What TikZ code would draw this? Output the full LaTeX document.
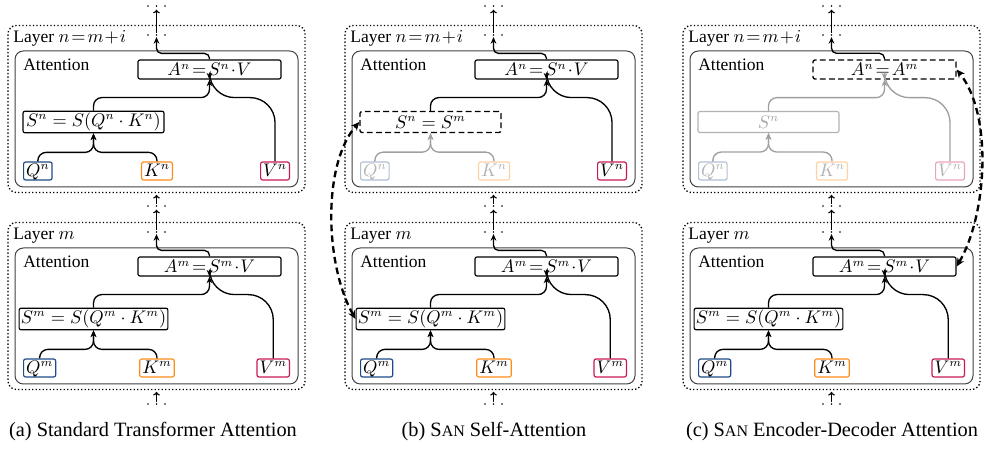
\documentclass[tikz,border=0pt]{standalone}
\usepackage[no-math]{fontspec}
\setmainfont{Liberation Serif}
\usetikzlibrary{arrows.meta,calc}
\definecolor{qcol}{RGB}{31,73,135}
\definecolor{kcol}{RGB}{255,140,26}
\definecolor{vcol}{RGB}{200,25,85}
\tikzset{
  layerbox/.style={draw, line width=0.8pt, dash pattern=on 0.8pt off 1.3pt, rounded corners=5pt,
    minimum width=297*0.6pt, minimum height=167*0.6pt, inner sep=0},
  attnbox/.style={draw=black!75, line width=0.6pt, rounded corners=5pt,
    minimum width=283*0.6pt, minimum height=136*0.6pt, inner sep=0},
  lbl/.style={inner sep=0, font=\fontsize{10.5}{12}\selectfont},
  formbox/.style={rounded corners=1.2pt, line width=0.7pt, inner sep=1pt, font=\fontsize{10.5}{12}\selectfont},
  Asz/.style={formbox, minimum width=143*0.6pt, minimum height=19*0.6pt},
  Ssz/.style={formbox, minimum width=141*0.6pt, minimum height=21*0.6pt},
  insz/.style={formbox, inner xsep=1.5pt, inner ysep=1.3pt, text height=7.2pt, text depth=1pt},
  dashbox/.style={draw=black, line width=0.8pt, dash pattern=on 3.5pt off 2pt},
  Akind/.style={draw=black}, Skind/.style={draw=black},
  Qkind/.style={draw=qcol}, Kkind/.style={draw=kcol}, Vkind/.style={draw=vcol},
  flow/.style={draw=black, line width=0.8pt, -{Stealth[length=4pt,width=3.4pt]}},
  grayflow/.style={flow, draw=gray!75},
  QKline/.style={flow}, SAline/.style={flow}, Vline/.style={flow},
  dotsn/.style={inner sep=0, minimum width=12pt, minimum height=2pt,
    path picture={\foreach \dx in {-5.1pt,0pt,5.1pt}
      \fill ([xshift=\dx]path picture bounding box.center) circle (0.55pt);}},
  upar/.style={line width=0.7pt, shorten >=1pt, -{To[length=2.2pt,width=4pt]}},
  share/.style={line width=1.4pt, dash pattern=on 4pt off 2.5pt,
    {Stealth[length=5pt,width=4.5pt]}-{Stealth[length=5pt,width=4.5pt]}},
  capt/.style={inner sep=0, anchor=base, font=\fontsize{12.2}{14}\selectfont},
}
\newcommand\attnlayer[7]{%
\begin{scope}[shift={(0,#2)},name prefix=#1,#7]
  \node[layerbox] (L) at (156.5,109) {};
  \node[attnbox] (At) at (156.5,119) {};
  \node[lbl,anchor=base west] (lab) at (13,43) {Layer $#3$};
  \node[lbl,anchor=base west] (att) at (23,71) {Attention};
  \node[Asz,Akind] (A) at (209.5,69.5) {$#4$};
  \node[Ssz,Skind] (S) at (93.5,122) {$#5$};
  \node[insz,Qkind,anchor=west] (Q) at (23,171) {$Q^{#6}$};
  \node[insz,Kkind] (K) at (157,171) {$K^{#6}$};
  \node[insz,Vkind,anchor=east] (V) at (290,171) {$V^{#6}$};
  \node[dotsn] (ud) at (156.5,35) {};
  \draw[QKline,rounded corners=5pt] (Q.north) |- ($(S.south)+(0,19)$) -- (S.south);
  \draw[QKline,rounded corners=5pt] (K.north) |- ($(S.south)+(0,19)$) -- (S.south);
  \draw[SAline,rounded corners=5pt] (S.north) |- ($(A.south)+(0,18)$) -- (A.south);
  \draw[Vline] (V.north) [rounded corners=15pt] |- ($(A.south)+(0,18)$) [rounded corners=5pt] -- (A.south);
  \draw[flow,rounded corners=3pt] (A.north) -- ++(0,-6) -| (ud.south);
\end{scope}}
\begin{document}
\begin{tikzpicture}[x=0.6pt,y=-0.6pt]
\useasboundingbox (0,0) rectangle (994,455);
% ---------- panel (a)
\begin{scope}
  \attnlayer{an-}{0}{n\!=\!m\!+\!i}{A^n\!=\!S^n\!\cdot\! V}{S^n=S(Q^n\cdot K^n)}{n}{}
  \attnlayer{am-}{197}{m}{A^m\!=\!S^m\!\cdot\! V}{S^m=S(Q^m\cdot K^m)}{m}{}
  \node[dotsn] (a-top) at (156.5,6) {};
  \node[dotsn] (a-mid) at (156.5,206) {};
  \node[dotsn] (a-bot) at (156.5,404) {};
  \draw[upar] (an-ud) -- (a-top);
  \draw[upar] (a-mid) -- (an-L.south);
  \draw[upar] (am-ud) -- (a-mid);
  \draw[upar] (a-bot) -- (am-L.south);
\end{scope}
% ---------- panel (b)
\begin{scope}[shift={(337,0)}]
  \attnlayer{bn-}{0}{n\!=\!m\!+\!i}{A^n\!=\!S^n\!\cdot\! V}{S^n=S^m}{n}{Skind/.style={dashbox},
    Qkind/.style={draw=qcol!35,text=gray!60}, Kkind/.style={draw=kcol!40,text=gray!60},
    QKline/.style={grayflow}}
  \attnlayer{bm-}{197}{m}{A^m\!=\!S^m\!\cdot\! V}{S^m=S(Q^m\cdot K^m)}{m}{}
  \node[dotsn] (b-top) at (156.5,6) {};
  \node[dotsn] (b-mid) at (156.5,206) {};
  \node[dotsn] (b-bot) at (156.5,404) {};
  \draw[upar] (bn-ud) -- (b-top);
  \draw[upar] (b-mid) -- (bn-L.south);
  \draw[upar] (bm-ud) -- (b-mid);
  \draw[upar] (b-bot) -- (bm-L.south);
  \draw[share] (bm-S.west) .. controls (-12,265) and (-15,165) .. (bn-S.west);
\end{scope}
% ---------- panel (c)
\begin{scope}[shift={(675,0)}]
  \attnlayer{cn-}{0}{n\!=\!m\!+\!i}{A^n\!=\!A^m}{S^n}{n}{Akind/.style={dashbox},
    Skind/.style={draw=gray!60,text=gray!70},
    Qkind/.style={draw=qcol!35,text=gray!60}, Kkind/.style={draw=kcol!40,text=gray!60},
    Vkind/.style={draw=vcol!40,text=gray!60},
    QKline/.style={grayflow}, SAline/.style={grayflow}, Vline/.style={grayflow}}
  \attnlayer{cm-}{197}{m}{A^m\!=\!S^m\!\cdot\! V}{S^m=S(Q^m\cdot K^m)}{m}{}
  \node[dotsn] (c-top) at (156.5,6) {};
  \node[dotsn] (c-mid) at (156.5,206) {};
  \node[dotsn] (c-bot) at (156.5,404) {};
  \draw[upar] (cn-ud) -- (c-top);
  \draw[upar] (c-mid) -- (cn-L.south);
  \draw[upar] (cm-ud) -- (c-mid);
  \draw[upar] (c-bot) -- (cm-L.south);
  \draw[share] (cm-A.east) .. controls (312,215) and (318,115) .. (cn-A.east);
\end{scope}
% ---------- captions
\node[capt] (capa) at (153,437) {(a) Standard Transformer Attention};
\node[capt] (capb) at (494,437) {(b) S{\fontsize{9.6}{11}\selectfont AN} Self-Attention};
\node[capt] (capc) at (832,437) {(c) S{\fontsize{9.6}{11}\selectfont AN} Encoder-Decoder Attention};
\end{tikzpicture}
\end{document}
